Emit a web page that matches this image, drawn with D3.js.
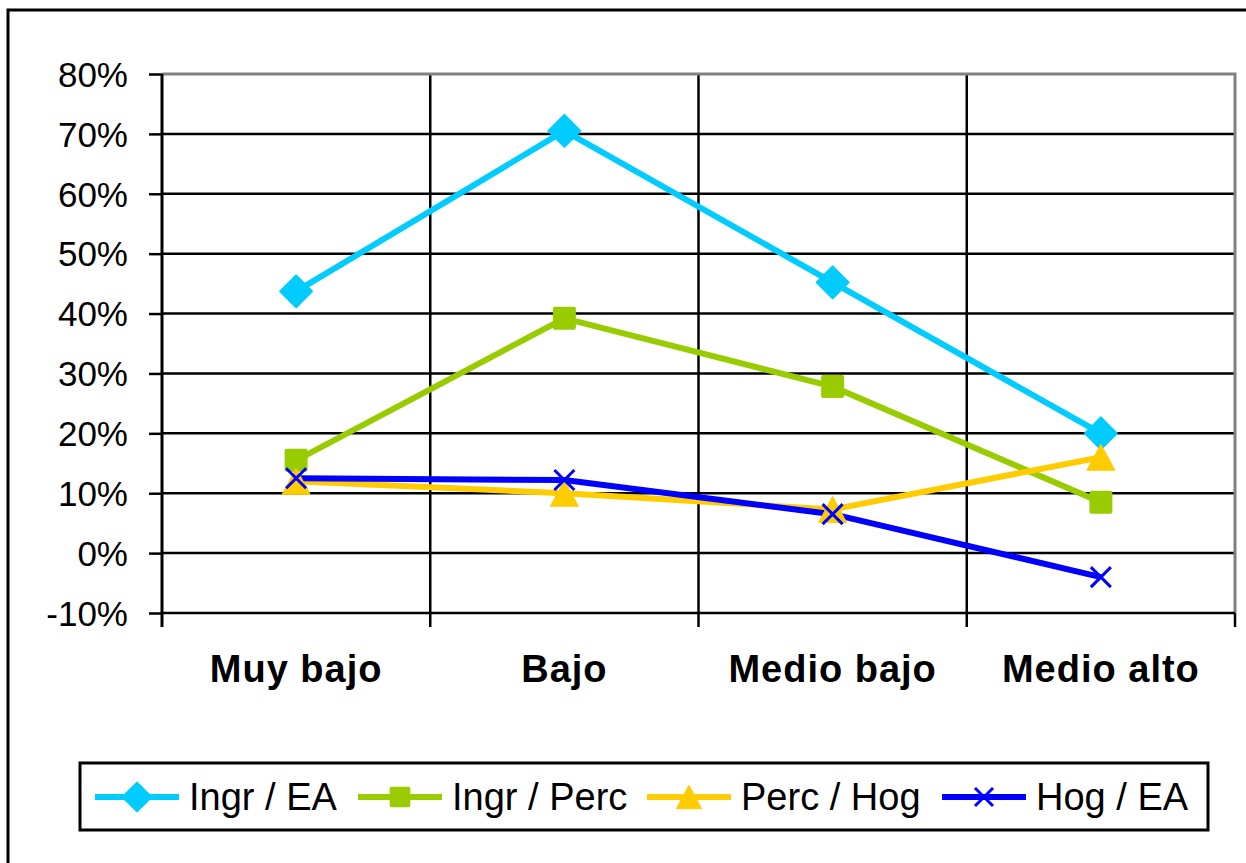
<!DOCTYPE html>
<html>
<head>
<meta charset="utf-8">
<script src="https://cdn.jsdelivr.net/npm/d3@7"></script>
<style>
  body { margin: 0; background: #fff; }
  text { font-family: "Liberation Sans", Arial, sans-serif; }
</style>
</head>
<body>
<div id="grafico"></div>
<script>
// DATOS
const categorias = ['Muy bajo', 'Bajo', 'Medio bajo', 'Medio alto']
const ingrEA = [0.437, 0.705, 0.452, 0.200]
const ingrPerc = [0.155, 0.392, 0.278, 0.085]
const percHog = [0.120, 0.100, 0.073, 0.160]
const hogEA = [0.125, 0.122, 0.065, -0.040]
const ticksY = [-0.1, 0, 0.1, 0.2, 0.3, 0.4, 0.5, 0.6, 0.7, 0.8]

const series = [
    { nombre: 'Ingr / EA', valores: ingrEA, color: '#00CCFF', marca: 'diamond' },
    { nombre: 'Ingr / Perc', valores: ingrPerc, color: '#99CC00', marca: 'square' },
    { nombre: 'Perc / Hog', valores: percHog, color: '#FFCC00', marca: 'triangle' },
    { nombre: 'Hog / EA', valores: hogEA, color: '#0000FF', marca: 'x' }
]

const W = 1246, H = 863
let margin = { top: 74, right: 11, bottom: 250, left: 162 }
let width = W - margin.left - margin.right,
    height = H - margin.top - margin.bottom

const svg = d3.select('#grafico').append('svg')
    .attr('width', W)
    .attr('height', H)

// marco exterior
svg.append('rect')
    .attr('x', 8).attr('y', 10)
    .attr('width', W + 20).attr('height', H + 20)
    .attr('fill', 'none').attr('stroke', '#000').attr('stroke-width', 3)

const g = svg.append('g')
    .attr('transform', 'translate(' + margin.left + ',' + margin.top + ')')

var x = d3.scaleBand().domain(categorias).range([0, width]).padding(0)
var y = d3.scaleLinear().domain([-0.1, 0.8]).range([height, 0])

// lineas horizontales
g.append('g')
    .selectAll('line')
    .data(ticksY.slice(1, -1))
    .enter().append('line')
    .attr('x1', 0).attr('x2', width)
    .attr('y1', d => y(d)).attr('y2', d => y(d))
    .attr('stroke', '#000').attr('stroke-width', 2.5)

// lineas verticales (limites de categorias)
const limites = categorias.slice(1).map(c => x(c))
g.append('g')
    .selectAll('line')
    .data(limites)
    .enter().append('line')
    .attr('x1', d => d).attr('x2', d => d)
    .attr('y1', 0).attr('y2', height + 14)
    .attr('stroke', '#000').attr('stroke-width', 2.5)

// borde del area de trazado (arriba y derecha gris)
g.append('path')
    .attr('d', 'M0,0H' + width + 'V' + height)
    .attr('fill', 'none').attr('stroke', '#808080').attr('stroke-width', 3)

// eje x
g.append('line')
    .attr('x1', 0).attr('x2', width)
    .attr('y1', height).attr('y2', height)
    .attr('stroke', '#000').attr('stroke-width', 2.5)
g.append('line')
    .attr('x1', width).attr('x2', width)
    .attr('y1', height).attr('y2', height + 14)
    .attr('stroke', '#000').attr('stroke-width', 2.5)

g.append('g')
    .selectAll('text')
    .data(categorias)
    .enter().append('text')
    .attr('x', d => x(d) + x.bandwidth() / 2)
    .attr('y', height + 69)
    .attr('text-anchor', 'middle')
    .attr('font-size', 38)
    .attr('letter-spacing', 1)
    .attr('font-weight', 'bold')
    .text(d => d)

// eje y
const formato = d3.format('.0%')
const ejeY = g.append('g')
    .call(d3.axisLeft(y).tickValues(ticksY).tickSize(13).tickPadding(21)
        .tickFormat(d => formato(d).replace('−', '-')))
ejeY.select('.domain')
    .attr('d', 'M0,0V' + (height + 14))
    .attr('stroke', '#000').attr('stroke-width', 3)
ejeY.selectAll('.tick line').attr('stroke', '#000').attr('stroke-width', 2.5)
ejeY.selectAll('.tick text')
    .attr('font-size', 35)
    .attr('font-family', '"Liberation Sans", Arial, sans-serif')
    .attr('fill', '#000')
    .attr('dy', '0.35em')

// marcas
function marca(sel, tipo, color, k) {
    if (tipo === 'diamond') {
        const r = 16 * k
        sel.append('path').attr('d', `M0,${-r}L${r},0L0,${r}L${-r},0Z`)
            .attr('fill', color).attr('stroke', color).attr('stroke-width', 2)
            .attr('stroke-linejoin', 'round')
    } else if (tipo === 'square') {
        const s = 11.5 * k
        sel.append('rect').attr('x', -s).attr('y', -s).attr('width', 2 * s).attr('height', 2 * s)
            .attr('rx', 2).attr('fill', color)
    } else if (tipo === 'triangle') {
        const w = 14 * k, h = 13 * k
        sel.append('path').attr('d', `M0,${-h}L${w},${h}L${-w},${h}Z`)
            .attr('fill', color).attr('stroke', color).attr('stroke-width', 1)
    } else {
        const s = 10 * k
        sel.append('path').attr('d', `M${-s},${-s}L${s},${s}M${-s},${s}L${s},${-s}`)
            .attr('stroke', color).attr('stroke-width', 3)
    }
}

const linea = d3.line()
    .x((d, i) => x(categorias[i]) + x.bandwidth() / 2)
    .y(d => y(d))

for (const s of series) {
    g.append('path')
        .datum(s.valores)
        .attr('d', linea)
        .attr('fill', 'none')
        .attr('stroke', s.color)
        .attr('stroke-width', 6)
        .attr('stroke-linejoin', 'round')
}
for (const s of series) {
    g.selectAll(null)
        .data(s.valores)
        .enter().append('g')
        .attr('transform', (d, i) => 'translate(' + (x(categorias[i]) + x.bandwidth() / 2) + ',' + y(d) + ')')
        .each(function () { marca(d3.select(this), s.marca, s.color, 1) })
}

// leyenda
svg.append('rect')
    .attr('x', 80).attr('y', 763)
    .attr('width', 1128).attr('height', 67)
    .attr('fill', '#fff').attr('stroke', '#000').attr('stroke-width', 3)
const leyenda = svg.append('g')

const posLeyenda = [95, 358, 647, 942]
series.forEach((s, i) => {
    const it = leyenda.append('g').attr('transform', 'translate(' + posLeyenda[i] + ',797)')
    it.append('line').attr('x1', 0).attr('x2', 84).attr('y1', 0).attr('y2', 0)
        .attr('stroke', s.color).attr('stroke-width', 6)
    marca(it.append('g').attr('transform', 'translate(42,0)'), s.marca, s.color, 0.9)
    it.append('text').attr('x', 94).attr('y', 13)
        .attr('font-size', 38).text(s.nombre)
})
</script>
</body>
</html>
